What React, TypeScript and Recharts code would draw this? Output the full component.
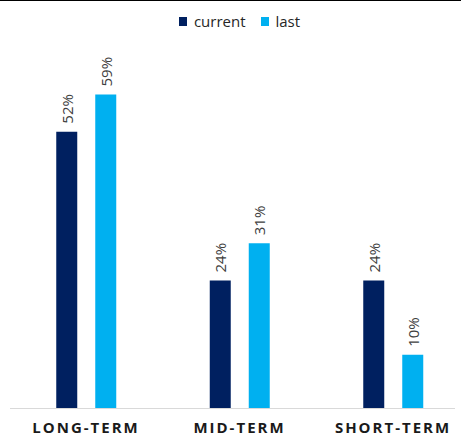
import React from 'react';
import { BarChart, Bar, XAxis, YAxis, Legend, LabelList } from 'recharts';

const categories = ['LONG-TERM', 'MID-TERM', 'SHORT-TERM'];
const currentValues = [52, 24, 24];
const lastValues = [59, 31, 10];
const seriesNames = ['current', 'last'];
const seriesColors = ['#002060', '#00B0F0'];

const data = categories.map((c, i) => ({ name: c, current: currentValues[i], last: lastValues[i] }));

const FONT = '"Open Sans", sans-serif';

const renderLabel = (props: any) => {
  const { x, y, width, value } = props;
  const cx = Number(x) + Number(width) / 2;
  const ty = Number(y) - 8;
  return (
    <text
      x={cx}
      y={ty}
      transform={`rotate(-90, ${cx}, ${ty})`}
      textAnchor="start"
      dominantBaseline="central"
      fontFamily={FONT}
      fontSize={15}
      fill="#404040"
    >
      {value}%
    </text>
  );
};

const renderTick = (props: any) => {
  const { x, y, payload } = props;
  return (
    <text
      x={x}
      y={Number(y) + 25}
      textAnchor="middle"
      fontFamily={FONT}
      fontSize={15}
      fontWeight={700}
      letterSpacing={2}
      fill="#1a1a1a"
    >
      {payload.value}
    </text>
  );
};

const renderLegend = () => (
  <div
    style={{
      height: 30,
      display: 'flex',
      justifyContent: 'center',
      alignItems: 'center',
      fontFamily: FONT,
      fontSize: 15,
      color: '#262626',
    }}
  >
    {seriesNames.map((n, i) => (
      <div key={n} style={{ display: 'flex', alignItems: 'center', marginLeft: i === 0 ? 0 : 15 }}>
        <span style={{ display: 'inline-block', width: 8, height: 9, background: seriesColors[i], marginRight: 7 }} />
        <span style={{ lineHeight: '15px' }}>{n}</span>
      </div>
    ))}
  </div>
);

export default function App() {
  return (
    <div style={{ position: 'absolute', left: 0, top: 0, width: 461, height: 438, overflow: 'hidden', background: '#fff' }}>
      <div style={{ position: 'absolute', left: 0, top: 0, width: 461, height: 1, background: '#000' }} />
      <BarChart
        width={470}
        height={438}
        data={data}
        margin={{ top: 6, right: 0.25, bottom: 0, left: 9.25 }}
        barSize={21}
        barGap={18}
      >
        <Legend verticalAlign="top" align="center" content={renderLegend} />
        <YAxis hide domain={[0, 70]} />
        <XAxis
          dataKey="name"
          axisLine={false}
          tickLine={false}
          tickSize={0}
          tickMargin={0}
          height={30}
          tick={renderTick}
          interval={0}
        />
        <Bar dataKey="current" name="current" fill={seriesColors[0]} isAnimationActive={false}>
          <LabelList dataKey="current" content={renderLabel} />
        </Bar>
        <Bar dataKey="last" name="last" fill={seriesColors[1]} isAnimationActive={false}>
          <LabelList dataKey="last" content={renderLabel} />
        </Bar>
      </BarChart>
      <div style={{ position: 'absolute', left: 10, top: 407.5, width: 445, height: 1.5, background: '#d9d9d9' }} />
    </div>
  );
}
